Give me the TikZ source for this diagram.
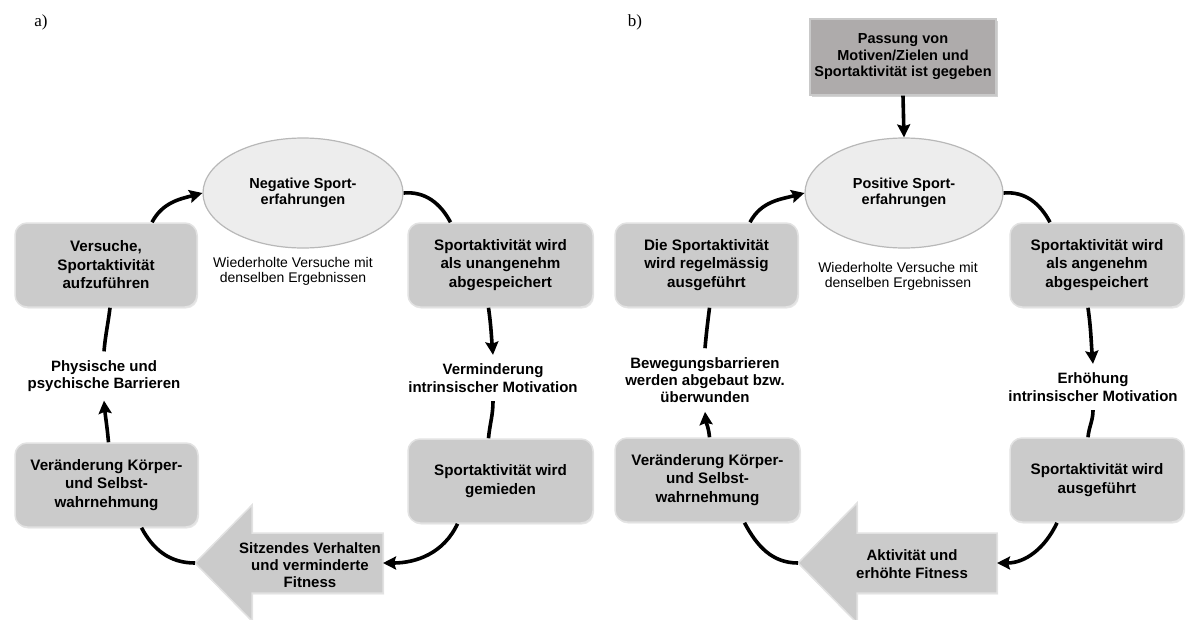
\documentclass[tikz,border=0pt]{standalone}
\usepackage{fontspec}
\setmainfont{Liberation Sans}
\newfontfamily\seriffont{Liberation Serif}
\usetikzlibrary{shapes.geometric,arrows.meta,shadows}
\definecolor{boxfill}{HTML}{CBCBCB}
\definecolor{boxedge}{HTML}{E2E2E2}
\definecolor{ellfill}{HTML}{EDEDED}
\definecolor{elledge}{HTML}{B8B8B8}
\definecolor{topfill}{HTML}{AEABAB}
\definecolor{topedge}{HTML}{C9C9C9}
\begin{document}
\begin{tikzpicture}[x=1pt,y=-1pt,
  stepbox/.style={rectangle, rounded corners=12pt, fill=boxfill, draw=boxedge, line width=1.5pt,
    minimum height=84pt, inner sep=0pt, align=center,
    font=\bfseries\fontsize{15.2}{18.5}\selectfont,
    drop shadow={opacity=0.18, shadow xshift=1pt, shadow yshift=-1.5pt}},
  topbox/.style={rectangle, fill=topfill, draw=topedge, line width=1.2pt,
    minimum width=186pt, minimum height=76pt, inner sep=0pt, align=center,
    font=\bfseries\fontsize{14.5}{16.5}\selectfont,
    drop shadow={opacity=0.35, shadow xshift=1.5pt, shadow yshift=-2pt}},
  ellnode/.style={ellipse, fill=ellfill, draw=elledge, line width=1.2pt, inner sep=0pt,
    align=center, font=\bfseries\fontsize{14.5}{16.5}\selectfont},
  lab/.style={align=center, inner sep=2pt, outer sep=7pt,
    font=\bfseries\fontsize{15}{17.3}\selectfont},
  note/.style={align=center, inner sep=0pt, font=\fontsize{14}{15}\selectfont},
  panel/.style={font=\seriffont\fontsize{17}{20}\selectfont, inner sep=0pt},
  bigarrow/.style={fill=boxfill, draw=boxedge, line width=1.5pt,
    drop shadow={opacity=0.18, shadow xshift=1pt, shadow yshift=-1.5pt}},
  conn/.style={line width=3.6pt, black},
  arr/.style={conn, -{Stealth[length=13pt,width=13pt,inset=2pt]}}
]
\useasboundingbox (0,0) rectangle (1189,619);

% ---------------- panel a ----------------
\node[panel] (la) at (41,22) {a)};
\node[ellnode, minimum width=200pt, minimum height=110pt] (neg) at (303,193) {Negative Sport-\\erfahrungen};
\node[note] (wa) at (293,271) {Wiederholte Versuche mit\\denselben Ergebnissen};
\node[stepbox, minimum width=182pt] (vers) at (106,265) {Versuche,\\Sportaktivität\\aufzuführen};
\node[stepbox, minimum width=185pt] (rb1) at (500.5,265) {Sportaktivität wird\\als unangenehm\\abgespeichert};
\node[lab] (verm) at (493,378) {Verminderung\\intrinsischer Motivation};
\node[stepbox, minimum width=185pt] (rb2) at (500.5,481) {Sportaktivität wird\\gemieden};
\node[stepbox, minimum width=183pt] (ver) at (106.5,485) {Veränderung Körper-\\und Selbst-\\wahrnehmung};
\node[lab] (phys) at (104,376) {Physische und\\psychische Barrieren};

\draw[bigarrow] (195,563) -- (252,505) -- (252,533) -- (383,533) -- (383,593) -- (252,593) -- (252,621) -- cycle;
\coordinate (sitzT) at (195,563);
\coordinate (sitzR) at (383,563);
\node[lab, outer sep=0pt] (sitz) at (310,565) {Sitzendes Verhalten\\und verminderte\\Fitness};

\draw[arr] ([xshift=46pt]vers.north) to[out=62,in=195] (neg.west);
\draw[conn] (neg.east) to[out=5,in=118] ([xshift=-50pt]rb1.north);
\draw[arr] ([xshift=-12pt]rb1.south) to[out=-82,in=95] (verm.north);
\draw[conn] (verm.south) to[out=-90,in=85] ([xshift=-12pt]rb2.north);
\draw[arr] ([xshift=-43pt]rb2.south) to[out=-115,in=0] (sitzR);
\draw[conn] (sitzT) to[out=180,in=-62] ([xshift=35pt]ver.south);
\draw[arr] ([xshift=2pt]ver.north) to[out=95,in=-85] (phys.south);
\draw[conn] (phys.north) to[out=85,in=-97] ([xshift=4pt]vers.south);

% ---------------- panel b ----------------
\node[panel] (lb) at (635,22) {b)};
\node[topbox] (pass) at (903,57) {Passung von\\Motiven/Zielen und\\Sportaktivität ist gegeben};
\node[ellnode, minimum width=198pt, minimum height=110pt] (pos) at (904,193) {Positive Sport-\\erfahrungen};
\node[note] (wb) at (898,276) {Wiederholte Versuche mit\\denselben Ergebnissen};
\node[stepbox, minimum width=183pt] (lb1) at (706.5,265) {Die Sportaktivität\\wird regelmässig\\ausgeführt};
\node[stepbox, minimum width=174pt] (rb1b) at (1097,265) {Sportaktivität wird\\als angenehm\\abgespeichert};
\node[lab] (erh) at (1093,387) {Erhöhung\\intrinsischer Motivation};
\node[stepbox, minimum width=174pt] (rb2b) at (1097,480) {Sportaktivität wird\\ausgeführt};
\node[stepbox, minimum width=185pt] (verb) at (707.5,480) {Veränderung Körper-\\und Selbst-\\wahrnehmung};
\node[lab] (beweg) at (705,380) {Bewegungsbarrieren\\werden abgebaut bzw.\\überwunden};

\draw[bigarrow] (798,563) -- (857,503) -- (857,533) -- (997,533) -- (997,593) -- (857,593) -- (857,623) -- cycle;
\coordinate (aktT) at (798,563);
\coordinate (aktR) at (997,563);
\node[lab, outer sep=0pt] (akt) at (912,564) {Aktivität und\\erhöhte Fitness};

\draw[arr] (pass.south) -- (pos.north);
\draw[arr] ([xshift=43.5pt]lb1.north) to[out=62,in=195] (pos.west);
\draw[conn] (pos.east) to[out=5,in=118] ([xshift=-47pt]rb1b.north);
\draw[arr] ([xshift=-9pt]rb1b.south) to[out=-82,in=95] (erh.north);
\draw[conn] (erh.south) to[out=-90,in=85] ([xshift=-9pt]rb2b.north);
\draw[arr] ([xshift=-40pt]rb2b.south) to[out=-115,in=0] (aktR);
\draw[conn] (aktT) to[out=180,in=-62] ([xshift=37pt]verb.south);
\draw[arr] ([xshift=2pt]verb.north) to[out=95,in=-85] (beweg.south);
\draw[conn] (beweg.north) to[out=85,in=-97] ([xshift=3pt]lb1.south);
\end{tikzpicture}
\end{document}
